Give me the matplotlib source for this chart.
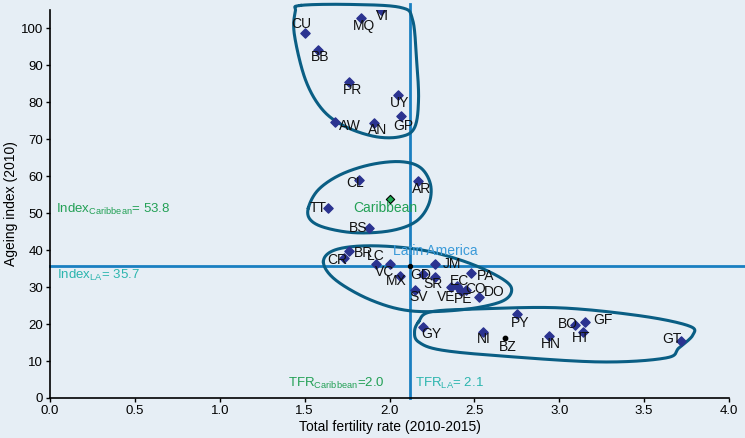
import numpy as np
import matplotlib
matplotlib.use('Agg')
import matplotlib.pyplot as plt

plt.rcParams['font.family'] = ['Liberation Sans', 'DejaVu Sans']
plt.rcParams['mathtext.fontset'] = 'custom'
plt.rcParams['mathtext.rm'] = 'Liberation Sans'
plt.rcParams['mathtext.it'] = 'Liberation Sans'

# Dados: código do país, TFR (2010-2015), índice de envelhecimento (2010)
codes = ['CU', 'MQ', 'VI', 'BB', 'PR', 'UY', 'GP', 'AW', 'AN',
         'CL', 'AR', 'TT', 'BS',
         'BR', 'CR', 'LC', 'VC', 'MX', 'GD', 'SR', 'JM', 'PA', 'EC', 'VE', 'PE', 'CO', 'DO', 'SV',
         'PY', 'GY', 'NI', 'HN', 'BO', 'GF', 'HT', 'GT']
tfr = [1.50, 1.83, 1.95, 1.58, 1.76, 2.05, 2.07, 1.68, 1.91,
       1.82, 2.17, 1.64, 1.88,
       1.76, 1.73, 1.92, 2.00, 2.06, 2.20, 2.27, 2.27, 2.48, 2.40, 2.36, 2.42, 2.45, 2.53, 2.15,
       2.75, 2.20, 2.55, 2.94, 3.09, 3.15, 3.14, 3.72]
idx = [98.9, 102.7, 104.9, 94.3, 85.4, 82.1, 76.4, 74.8, 74.3,
       59.1, 58.8, 51.5, 46.1,
       39.8, 37.9, 36.3, 36.3, 33.1, 33.5, 32.8, 36.3, 33.9, 30.2, 30.0, 29.0, 29.3, 27.4, 29.3,
       22.8, 19.2, 17.9, 16.8, 19.8, 20.6, 17.9, 15.4]
# deslocamento dos rótulos (pixels)
offs = [(-3, 9), (3, -8), (1, -6), (2, -7), (4, -8), (2, -8), (2, -10), (15, -4), (3, -7),
        (-4, -3), (3, -8), (-10, 0), (-11, 0),
        (15, -2), (-6, -2), (0, 8), (-5, -8), (-3, -5), (-3, -1), (-2, -7), (17, 0), (15, -3),
        (2, 5), (-4, -10), (2, -8), (10, 1), (15, 5), (4, -7),
        (3, -9), (8, -7), (1, -7), (2, -8), (-7, 1), (18, 2), (-2, -6), (-10, 2)]

bz_tfr, bz_idx = 2.68, 16.3
tfr_car, idx_car = 2.0, 53.8
tfr_la, idx_la = 2.12, 35.7

# Contornos dos grupos (pixels da imagem original)
blobs_px = [
    [(300, 6), (350, 5), (400, 8), (412, 20), (416, 60), (418, 100), (414, 128), (400, 137),
     (375, 137), (345, 127), (322, 110), (305, 80), (294, 35), (295, 12)],
    [(308, 208), (318, 190), (340, 175), (370, 165), (400, 162), (420, 168), (430, 185),
     (428, 205), (415, 222), (390, 231), (355, 233), (325, 228), (310, 220)],
    [(323, 262), (335, 250), (370, 246), (420, 250), (465, 262), (500, 278), (511, 290),
     (500, 302), (460, 310), (410, 311), (370, 300), (335, 280)],
    [(418, 322), (430, 312), (480, 309), (560, 308), (640, 316), (688, 326), (692, 335),
     (678, 348), (665, 358), (600, 362), (500, 356), (440, 350), (418, 342), (414, 332)],
]


def px2data(p):
    return ((p[0] - 50) / 169.5, (398 - p[1]) / 3.69)


def closed_spline(pts, n=30):
    pts = np.array(pts)
    k = len(pts)
    out = []
    for i in range(k):
        p0, p1, p2, p3 = pts[(i - 1) % k], pts[i], pts[(i + 1) % k], pts[(i + 2) % k]
        for t in np.linspace(0, 1, n, endpoint=False):
            t2, t3 = t * t, t * t * t
            out.append(0.5 * ((2 * p1) + (-p0 + p2) * t + (2 * p0 - 5 * p1 + 4 * p2 - p3) * t2
                              + (-p0 + 3 * p1 - 3 * p2 + p3) * t3))
    out.append(out[0])
    return np.array(out)


bg = '#e6eef5'
fig = plt.figure(figsize=(7.45, 4.38), dpi=100, facecolor=bg)
ax = fig.add_axes([50 / 745, 40 / 438, 679 / 745, 388 / 438])
ax.set_facecolor(bg)

ax.set_xlim(0, 4)
ax.set_ylim(0, 105)

line_c = '#1a7fc1'
ax.plot([tfr_la, tfr_la], [0, 106.5], color=line_c, lw=2, clip_on=False, zorder=2)
ax.plot([0, 4.1], [idx_la, idx_la], color=line_c, lw=2, clip_on=False, zorder=2)

for b in blobs_px:
    pts = closed_spline([px2data(p) for p in b])
    ax.plot(pts[:, 0], pts[:, 1], color='#0a5e84', lw=2.2, clip_on=False, zorder=3)

ax.scatter(tfr, idx, marker='D', s=22, color='#2b3390', zorder=4)
ax.scatter([bz_tfr], [bz_idx], marker='o', s=10, color='black', zorder=4)
ax.scatter([tfr_car], [idx_car], marker='D', s=18, color='#1fae55', edgecolor='black', lw=0.8, zorder=5)
ax.scatter([tfr_la], [idx_la], marker='o', s=8, color='black', zorder=5)

for c, x, y, o in zip(codes, tfr, idx, offs):
    ax.annotate(c, (x, y), xytext=o, textcoords='offset pixels', ha='center', va='center',
                fontsize=10, color='#111111', zorder=6)
ax.annotate('BZ', (bz_tfr, bz_idx), xytext=(3, -9), textcoords='offset pixels',
            ha='center', va='center', fontsize=10, color='#111111', zorder=6)

green = '#22a055'
teal = '#2bb5ae'
ax.annotate('Caribbean', (tfr_car, idx_car), xytext=(-4, -9), textcoords='offset pixels',
            ha='center', va='center', fontsize=10, color=green, zorder=6)
ax.text(2.02, 39.8, 'Latin America', fontsize=10, color='#3a9ad9', va='center', zorder=6)

ax.text(0.035, 51.0, r'Index$_{\mathrm{Caribbean}}$= 53.8', fontsize=9.5, color=green, va='center')
ax.text(0.04, 33.2, r'Index$_{\mathrm{LA}}$= 35.7', fontsize=9.5, color=teal, va='center')
ax.text(1.40, 4.0, r'TFR$_{\mathrm{Caribbean}}$=2.0', fontsize=9.5, color=green, va='center')
ax.text(2.15, 4.0, r'TFR$_{\mathrm{LA}}$= 2.1', fontsize=9.5, color=teal, va='center')

ax.set_xticks(np.arange(0, 4.01, 0.5))
ax.set_xticklabels(['%.1f' % v for v in np.arange(0, 4.01, 0.5)])
ax.set_yticks(np.arange(0, 101, 10))
ax.tick_params(labelsize=9.5, length=3, width=1, colors='black', pad=2)
for s in ['top', 'right']:
    ax.spines[s].set_visible(False)
for s in ['left', 'bottom']:
    ax.spines[s].set_linewidth(1.2)

ax.set_xlabel('Total fertility rate (2010-2015)', fontsize=10, labelpad=2)
ax.set_ylabel('Ageing index (2010)', fontsize=10, labelpad=2)

fig.savefig('out.png', dpi=100, facecolor=bg)
